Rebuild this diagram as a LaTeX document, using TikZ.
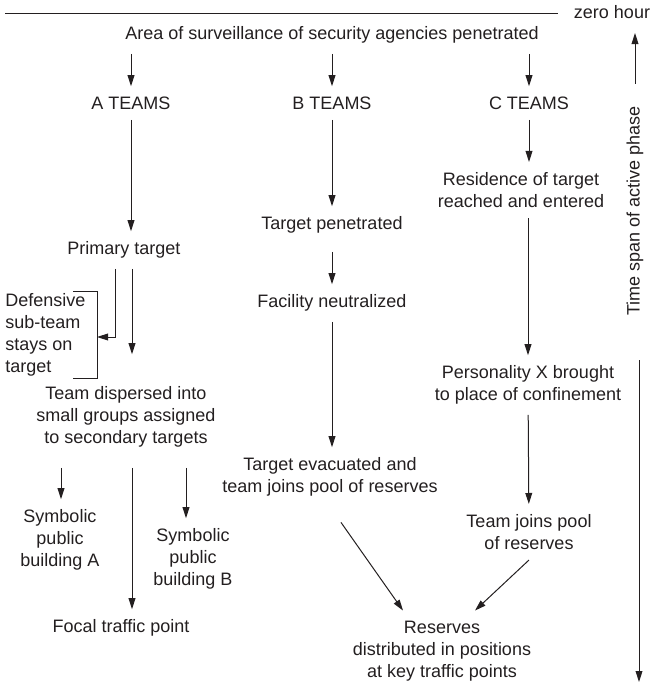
\documentclass[tikz,border=0pt]{standalone}
\usepackage{fontspec}
\setmainfont{Liberation Sans}
\usetikzlibrary{arrows.meta,positioning}
\definecolor{ink}{RGB}{35,31,32}
\tikzset{
  >={Triangle[length=5.5pt,width=3.4pt]},
  lbl/.style={font=\fontsize{9}{11}\selectfont,align=center,inner sep=5pt,text=ink},
  flow/.style={->,line width=0.5pt,draw=ink},
  rule/.style={line width=0.5pt,draw=ink},
}
\begin{document}
\begin{tikzpicture}[x=0.5pt,y=-0.5pt]
\useasboundingbox (0,0) rectangle (651,684);

% zero hour and the three team groups
\node[lbl] (zero) at (612,12) {zero hour};
\coordinate (l0) at (5,14);
\draw[rule,shorten >=3pt] (l0) -- (l0 -| zero.west);
\node[lbl] (area) at (332,35) {Area of surveillance of security agencies penetrated};
\node[lbl] (ta) at (131,103) {A TEAMS};
\node[lbl] (tb) at (332,103) {B TEAMS};
\node[lbl] (tc) at (529,103) {C TEAMS};
\foreach \t in {ta,tb,tc} \draw[flow] (area.south -| \t) -- (\t);

% A teams
\node[lbl] (prim) at (124,250) {Primary target};
\draw[flow] (ta) -- (ta |- prim.north);
\node[lbl,align=left,anchor=west] (dfs) at (-5,335) {Defensive\\sub-team\\stays on\\target};
\coordinate (brt) at (97,291);
\coordinate (brb) at (97,378);
\coordinate (brh) at (97,337);
\draw[rule] ([xshift=-12pt]brt) -- (brt) -- (brb) -- ([xshift=-12pt]brb);
\draw[flow] ([xshift=-4.5pt]prim.south) |- (brh);
\node[lbl] (disp) at (126,417) {Team dispersed into\\small groups assigned\\to secondary targets};
\draw[flow,shorten >=11pt] ([xshift=4pt]prim.south) -- ([xshift=4pt]prim.south |- disp.north);
\node[lbl] (syma) at (60,540) {Symbolic\\public\\building A};
\node[lbl] (symb) at (193,559) {Symbolic\\public\\building B};
\node[lbl] (focal) at (121,628) {Focal traffic point};
\draw[flow,shorten <=5pt] ([xshift=-32.5pt]disp.south) -- ([xshift=-32.5pt]disp.south |- syma.north);
\draw[flow,shorten <=5pt] ([xshift=3pt]disp.south) -- ([xshift=3pt]disp.south |- focal.north);
\draw[flow,shorten <=5pt] ([xshift=30pt]disp.south) -- ([xshift=30pt]disp.south |- symb.north);

% B teams
\node[lbl] (pen) at (332,225) {Target penetrated};
\node[lbl] (fac) at (332,303) {Facility neutralized};
\node[lbl] (evac) at (330,477) {Target evacuated and\\team joins pool of reserves};
\draw[flow] (tb) -- (pen);
\draw[flow,shorten <=4pt] (pen) -- (fac);
\draw[flow] (fac) -- (fac |- evac.north);

% C teams
\node[lbl] (res) at (521,190) {Residence of target\\reached and entered};
\node[lbl] (pers) at (528,385) {Personality X brought\\to place of confinement};
\node[lbl] (pool) at (529,532) {Team joins pool\\of reserves};
\draw[flow] (tc) -- (tc |- res.north);
\draw[flow] (res.south -| pers) -- (pers);
\draw[flow] (pers) -- (pool);

% reserves
\node[lbl] (resv) at (442,651) {Reserves\\distributed in positions\\at key traffic points};
\draw[flow,shorten <=9.5pt] (evac.south) -- ([xshift=-19.5pt]resv.north);
\draw[flow] (pool.south) -- ([xshift=16.5pt]resv.north);

% time span
\node[lbl,rotate=90] (span) at (635,211) {Time span of active phase};
\draw[flow,shorten <=6pt,shorten >=2pt] (span.east) -- (span.east |- zero.south);
\coordinate (dtop) at (639,360);
\coordinate (dbot) at (639,682);
\draw[flow] (dtop) -- (dbot);
\end{tikzpicture}
\end{document}
